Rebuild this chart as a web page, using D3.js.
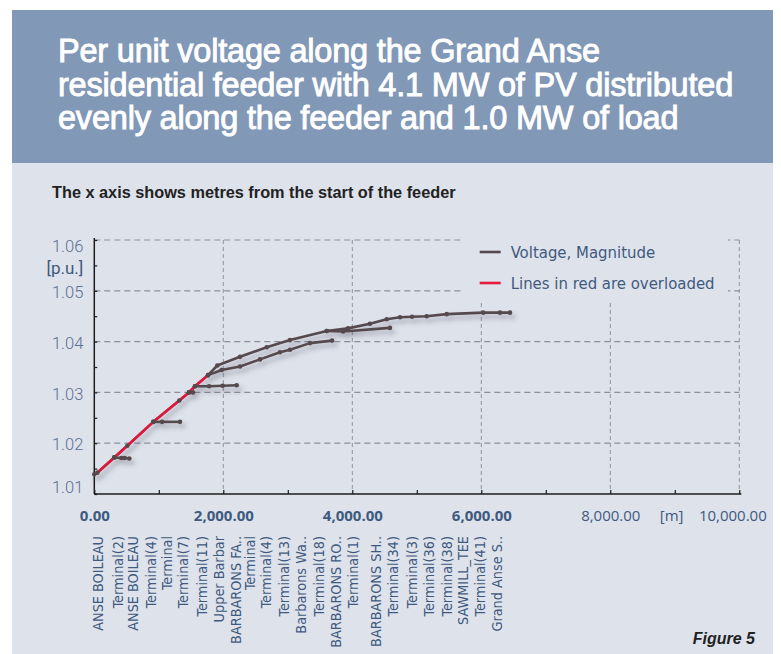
<!DOCTYPE html>
<html>
<head>
<meta charset="utf-8">
<script src="https://cdn.jsdelivr.net/npm/d3@7"></script>
<style>
  body { margin: 0; background: #fff; }
  svg { display: block; }
</style>
</head>
<body>
<div id="chart"></div>
<script>
// ---- chart text ----
const titleLines = [
  "Per unit voltage along the Grand Anse",
  "residential feeder with 4.1 MW of PV distributed",
  "evenly along the feeder and 1.0 MW of load"
];
const subtitle = "The x axis shows metres from the start of the feeder";
const legendLabels = ["Voltage, Magnitude", "Lines in red are overloaded"];
const yUnit = "[p.u.]";
const xUnit = "[m]";
const figureLabel = "Figure 5";

// ---- axis ticks ----
const xMajorTicks = [0, 2000, 4000, 6000, 8000, 10000];
const xMinorTicks = [0, 1000, 2000, 3000, 4000, 5000, 6000, 7000, 8000, 9000, 10000];
const yMajorTicks = [1.01, 1.02, 1.03, 1.04, 1.05, 1.06];
const yMinorTicks = [1.01, 1.015, 1.02, 1.025, 1.03, 1.035, 1.04, 1.045, 1.05, 1.055, 1.06];

// ---- main feeder (distance m, voltage p.u.) ----
const trunkDist = [0, 47, 310, 512, 915, 1318, 1468, 1561, 1763, 1907, 2259, 2673, 3034, 3603, 3933, 4274, 4533, 4740, 4926, 5153, 5464, 6031, 6290, 6445];
const trunkVolt = [1.0139, 1.0142, 1.0172, 1.0195, 1.0242, 1.0284, 1.0300, 1.0312, 1.0334, 1.0353, 1.0370, 1.0389, 1.0403, 1.0421, 1.0426, 1.0435, 1.0444, 1.0448, 1.0449, 1.0450, 1.0454, 1.0457, 1.0457, 1.0457];
const overloadedUntil = 1763; // trunk is overloaded from the start up to this node

// ---- laterals ----
const lat1Dist = [310, 420, 470, 543];
const lat1Volt = [1.0172, 1.0171, 1.0171, 1.0170];
const lat2Dist = [915, 1050, 1329];
const lat2Volt = [1.0242, 1.0242, 1.0242];
const lat3Dist = [1468, 1530];
const lat3Volt = [1.0300, 1.0300];
const lat4Dist = [1561, 1780, 1990, 2208];
const lat4Volt = [1.0312, 1.0312, 1.0313, 1.0314];
const lat5Dist = [1763, 1975, 2259, 2569, 2879, 3034, 3344, 3686];
const lat5Volt = [1.0334, 1.0344, 1.0351, 1.0365, 1.0379, 1.0384, 1.0397, 1.0402];
const lat6Dist = [3603, 3856, 4584];
const lat6Volt = [1.0421, 1.0420, 1.0427];

// ---- terminal names under the x axis ----
const terminalNames = ["ANSE BOILEAU", "Terminal(2)", "ANSE BOILEAU", "Terminal(4)", "Terminal", "Terminal(7)",
  "Terminal(11)", "Upper Barbar", "BARBARONS FA..", "Terminal", "Terminal(4)", "Terminal(13)", "Barbarons Wa..",
  "Terminal(18)", "BARBARONS RO..", "Terminal(1)", "BARBARONS SH..", "Terminal(34)", "Terminal(3)",
  "Terminal(36)", "Terminal(38)", "SAWMILL_TEE", "Terminal(41)", "Grand Anse S.."];
const terminalDist = [62, 372, 605, 874, 1132, 1380, 1665, 1938, 2197, 2414, 2657, 2941, 3205, 3488, 3747,
  4016, 4367, 4636, 4921, 5189, 5464, 5721, 5980, 6239];

// ---- layout ----
const W = 781, H = 654;
const margin = { top: 240, left: 94.3 };
const width = 645, height = 254;

const bandColor = "#8298b7";
const panelColor = "#dee2eb";
const lineColor = "#56494e";
const redColor = "#e4193c";
const labelBlue = "#3e5a7e";
const tickBlue = "#5a7093";
const condensed = "'Liberation Sans Narrow', 'DejaVu Sans Condensed', sans-serif";

const svg = d3.select("#chart").append("svg")
  .attr("width", W)
  .attr("height", H)
  .style("font-family", "'Liberation Sans', Arial, sans-serif");

const defs = svg.append("defs");
const shadow = defs.append("filter").attr("id", "shadow")
  .attr("x", "-5%").attr("y", "-20%").attr("width", "115%").attr("height", "160%");
shadow.append("feDropShadow")
  .attr("dx", 3).attr("dy", 4).attr("stdDeviation", 2.4)
  .attr("flood-color", "#4a4a55").attr("flood-opacity", 0.38);

// backgrounds
svg.append("rect").attr("x", 12).attr("y", 163).attr("width", 761).attr("height", H - 163).attr("fill", panelColor);
svg.append("rect").attr("x", 12).attr("y", 10).attr("width", 761).attr("height", 153).attr("fill", bandColor);

svg.append("g").selectAll("text")
  .data(titleLines)
  .join("text")
    .attr("x", 58)
    .attr("y", (d, i) => 62 + i * 33.5)
    .attr("fill", "#fff")
    .style("font-size", "32.5px")
    .style("letter-spacing", "-0.2px")
    .attr("stroke", "#fff").attr("stroke-width", 0.9)
    .text(d => d);

svg.append("text")
  .attr("x", 52).attr("y", 198)
  .attr("fill", "#222")
  .style("font-size", "16.3px").style("font-weight", "bold")
  .text(subtitle);

svg.append("text")
  .attr("x", 755).attr("y", 644)
  .attr("text-anchor", "end")
  .attr("fill", "#222")
  .style("font-size", "16px").style("font-weight", "bold").style("font-style", "italic")
  .text(figureLabel);

const g = svg.append("g").attr("transform", `translate(${margin.left},${margin.top})`);

const x = d3.scaleLinear().domain([0, 10000]).range([0, width]);
const y = d3.scaleLinear().domain([1.01, 1.06]).range([height, 0]);

// grid
g.append("g").selectAll("line")
  .data(yMajorTicks.filter(d => d > 1.01))
  .join("line")
    .attr("x1", 0).attr("x2", width)
    .attr("y1", d => y(d)).attr("y2", d => y(d))
    .attr("stroke", "#8b9099").attr("stroke-width", 1.2)
    .attr("stroke-dasharray", "6,4");

g.append("g").selectAll("line")
  .data(xMajorTicks.filter(d => d > 0))
  .join("line")
    .attr("x1", d => x(d)).attr("x2", d => x(d))
    .attr("y1", 0).attr("y2", height)
    .attr("stroke", "#8f949c").attr("stroke-width", 1)
    .attr("stroke-dasharray", "4,3");

// legend box hides the grid behind it
const legend = g.append("g");
legend.append("rect")
  .attr("x", x(5685)).attr("y", -8)
  .attr("width", x(9825) - x(5685)).attr("height", 71)
  .attr("fill", panelColor);

const legendItems = legend.selectAll("g.item")
  .data(legendLabels)
  .join("g")
    .attr("class", "item")
    .attr("transform", (d, i) => `translate(${x(5975)},${12 + i * 31})`);
legendItems.append("line")
  .attr("x1", 0).attr("x2", 21)
  .attr("stroke", (d, i) => i === 0 ? lineColor : redColor)
  .attr("stroke-width", 2.6);
legendItems.append("text")
  .attr("x", 31).attr("dy", "0.36em")
  .attr("fill", labelBlue)
  .style("font-family", condensed)
  .style("font-size", "16.6px")
  .text(d => d);

// axes
const xAxisTicks = g.append("g")
  .attr("transform", `translate(0,${height})`)
  .call(d3.axisBottom(x).tickValues(xMinorTicks).tickSize(-4).tickFormat(""));
xAxisTicks.select(".domain").attr("stroke", "#1c1c1c").attr("stroke-width", 1.5).attr("d", `M0,0H${width + 2}`);
xAxisTicks.selectAll(".tick line").attr("stroke", "#1c1c1c").attr("stroke-width", 1.2);

const xLabels = g.append("g")
  .attr("transform", `translate(0,${height})`)
  .call(d3.axisBottom(x).tickValues(xMajorTicks).tickSize(0).tickPadding(16).tickFormat(d3.format(",.2f")));
xLabels.select(".domain").remove();
xLabels.selectAll("text")
  .attr("fill", labelBlue)
  .style("font-family", "'Open Sans', sans-serif")
  .style("font-size", "15px")
  .style("font-weight", d => d <= 6000 ? 700 : 400)
  .attr("dx", d => d === 10000 ? -7 : 0);

g.append("text")
  .attr("x", x(8950)).attr("y", height + 16).attr("dy", "0.71em")
  .attr("text-anchor", "middle")
  .attr("fill", labelBlue)
  .style("font-family", "'Open Sans', sans-serif").style("font-size", "15px")
  .text(xUnit);

const yAxisTicks = g.append("g")
  .call(d3.axisLeft(y).tickValues(yMinorTicks).tickSize(-3).tickFormat(""));
yAxisTicks.select(".domain").attr("stroke", "#1c1c1c").attr("stroke-width", 1.5).attr("d", `M0,${height}V-2`);
yAxisTicks.selectAll(".tick line").attr("stroke", "#1c1c1c").attr("stroke-width", 1.2);

const yLabels = g.append("g")
  .call(d3.axisLeft(y).tickValues(yMajorTicks).tickSize(0).tickPadding(11).tickFormat(d3.format(".2f")));
yLabels.select(".domain").remove();
yLabels.selectAll("text")
  .attr("fill", tickBlue)
  .style("font-family", "Roboto, sans-serif")
  .style("font-weight", 300)
  .style("font-size", "16.5px")
  .attr("dy", d => d === 1.06 ? "0.7em" : d === 1.01 ? "-0.1em" : "0.4em");

g.append("text")
  .attr("x", -11).attr("y", y(1.0545))
  .attr("dy", "0.35em")
  .attr("text-anchor", "end")
  .attr("fill", labelBlue)
  .style("font-family", "Roboto, sans-serif").style("font-size", "17px")
  .text(yUnit);

// terminal names
g.append("g").selectAll("text")
  .data(terminalNames)
  .join("text")
    .attr("transform", (d, i) => `translate(${x(terminalDist[i])},${height + 42}) rotate(-90)`)
    .attr("dy", "0.35em")
    .attr("text-anchor", "end")
    .attr("fill", labelBlue)
    .style("font-family", condensed)
    .style("font-size", "14.3px")
    .text(d => d);

// voltage profile
const toPts = (dist, volt) => dist.map((d, i) => [d, volt[i]]);
const line = d3.line().x(p => x(p[0])).y(p => y(p[1]));

const trunk = toPts(trunkDist, trunkVolt);
const laterals = [
  toPts(lat1Dist, lat1Volt),
  toPts(lat2Dist, lat2Volt),
  toPts(lat3Dist, lat3Volt),
  toPts(lat4Dist, lat4Volt),
  toPts(lat5Dist, lat5Volt),
  toPts(lat6Dist, lat6Volt)
];
const allLines = laterals.concat([trunk]);

const plot = g.append("g").attr("filter", "url(#shadow)");

plot.selectAll("path.lat")
  .data(allLines)
  .join("path")
    .attr("class", "lat")
    .attr("d", line)
    .attr("fill", "none")
    .attr("stroke", lineColor)
    .attr("stroke-width", 2.6)
    .attr("stroke-linejoin", "round");

plot.append("path")
  .attr("d", line(trunk.filter(p => p[0] <= overloadedUntil)))
  .attr("fill", "none")
  .attr("stroke", redColor)
  .attr("stroke-width", 2.6);

plot.selectAll("circle")
  .data(allLines.flat())
  .join("circle")
    .attr("cx", p => x(p[0]))
    .attr("cy", p => y(p[1]))
    .attr("r", 2.3)
    .attr("fill", lineColor);
</script>
</body>
</html>
